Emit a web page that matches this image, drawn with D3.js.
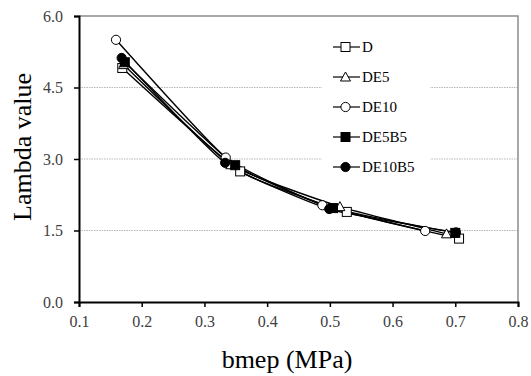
<!DOCTYPE html>
<html>
<head>
<meta charset="utf-8">
<script src="https://cdn.jsdelivr.net/npm/d3@7"></script>
<style>
  body { margin: 0; background: #fff; }
</style>
</head>
<body>
<div id="chart"></div>
<script>
var seriesNames = ['D', 'DE5', 'DE10', 'DE5B5', 'DE10B5'];
var markers = ['square', 'triangle', 'circle', 'squareFilled', 'circleFilled'];

var bmepD = [0.169, 0.357, 0.527, 0.706];
var lambdaD = [4.91, 2.74, 1.89, 1.33];
var bmepDE5 = [0.171, 0.342, 0.516, 0.686];
var lambdaDE5 = [4.98, 2.88, 2.00, 1.43];
var bmepDE10 = [0.159, 0.334, 0.488, 0.652];
var lambdaDE10 = [5.50, 3.03, 2.03, 1.49];
var bmepDE5B5 = [0.173, 0.349, 0.505, 0.700];
var lambdaDE5B5 = [5.03, 2.87, 1.97, 1.45];
var bmepDE10B5 = [0.168, 0.333, 0.499, 0.701];
var lambdaDE10B5 = [5.12, 2.92, 1.95, 1.46];

var xTicks = [0.1, 0.2, 0.3, 0.4, 0.5, 0.6, 0.7, 0.8];
var yTicks = [0, 1.5, 3.0, 4.5, 6.0];

var serif = 'Liberation Serif';

var width = 531, height = 376;
var margin = { top: 16, left: 79, right: 13, bottom: 74 };

var svg = d3.select('#chart')
  .append('svg')
  .attr('width', width)
  .attr('height', height);

var x = d3.scaleLinear().domain([0.1, 0.8]).range([margin.left, width - margin.right]);
var y = d3.scaleLinear().domain([0, 6]).range([height - margin.bottom, margin.top]);

var data = [
  { name: seriesNames[0], marker: markers[0], xs: bmepD, ys: lambdaD },
  { name: seriesNames[1], marker: markers[1], xs: bmepDE5, ys: lambdaDE5 },
  { name: seriesNames[2], marker: markers[2], xs: bmepDE10, ys: lambdaDE10 },
  { name: seriesNames[3], marker: markers[3], xs: bmepDE5B5, ys: lambdaDE5B5 },
  { name: seriesNames[4], marker: markers[4], xs: bmepDE10B5, ys: lambdaDE10B5 }
].map(function(s) {
  s.points = s.xs.map(function(v, i) { return [v, s.ys[i]]; });
  return s;
});

// gridlines
svg.append('g')
  .selectAll('line')
  .data(yTicks.slice(1, 4))
  .enter().append('line')
  .attr('x1', x(0.1)).attr('x2', x(0.8))
  .attr('y1', function(d) { return y(d); })
  .attr('y2', function(d) { return y(d); })
  .attr('stroke', '#a6a6a6')
  .attr('stroke-width', 0.8)
  .attr('stroke-dasharray', '1.5,1');

// top and right border
svg.append('path')
  .attr('d', 'M' + x(0.1) + ',' + y(6) + 'H' + x(0.8) + 'V' + y(0))
  .attr('fill', 'none')
  .attr('stroke', '#8c8c8c')
  .attr('stroke-width', 1.5);

// legend background
var legX = 333, legY = 47, legStep = 30;
svg.append('rect')
  .attr('x', 322).attr('y', 30)
  .attr('width', 108).attr('height', 152)
  .attr('fill', '#fff');

var line = d3.line()
  .curve(d3.curveCardinal.tension(0.55))
  .x(function(d) { return x(d[0]); })
  .y(function(d) { return y(d[1]); });

function drawMarker(g, type) {
  var filled = type.indexOf('Filled') >= 0;
  var fill = filled ? '#000' : '#fff';
  if (type.indexOf('square') === 0) {
    g.append('rect').attr('x', -4.5).attr('y', -4.5).attr('width', 9).attr('height', 9)
      .attr('fill', fill).attr('stroke', '#000').attr('stroke-width', 1);
  } else if (type.indexOf('circle') === 0) {
    g.append('circle').attr('r', 4.6)
      .attr('fill', fill).attr('stroke', '#000').attr('stroke-width', 1);
  } else {
    g.append('path').attr('d', 'M0,-5L5,4L-5,4Z')
      .attr('fill', '#fff').attr('stroke', '#000').attr('stroke-width', 1);
  }
}

// series lines
svg.append('g')
  .selectAll('path')
  .data(data)
  .enter().append('path')
  .attr('fill', 'none')
  .attr('stroke', '#000')
  .attr('stroke-width', 1.4)
  .attr('d', function(d) { return line(d.points); });

// markers
data.forEach(function(s) {
  s.points.forEach(function(p) {
    var g = svg.append('g').attr('transform', 'translate(' + x(p[0]) + ',' + y(p[1]) + ')');
    drawMarker(g, s.marker);
  });
});

// axes
var xAxis = d3.axisBottom(x).tickValues(xTicks).tickSize(5).tickFormat(d3.format('.1f'));
var yAxis = d3.axisLeft(y).tickValues(yTicks).tickSize(5).tickFormat(d3.format('.1f'));

var gx = svg.append('g')
  .attr('transform', 'translate(0,' + y(0) + ')')
  .call(xAxis);
var gy = svg.append('g')
  .attr('transform', 'translate(' + x(0.1) + ',0)')
  .call(yAxis);

[gx, gy].forEach(function(g) {
  g.select('.domain').attr('stroke', '#000').attr('stroke-width', 2);
  g.selectAll('.tick line').attr('stroke', '#000').attr('stroke-width', 1.5);
  g.selectAll('.tick text')
    .style('font-family', serif)
    .style('font-size', '16px')
    .attr('fill', '#404040');
});
gx.selectAll('.tick text').attr('dy', '0').attr('y', 25);
gy.selectAll('.tick text').attr('x', -16).attr('dy', '0.33em');

// legend
data.forEach(function(s, i) {
  var cy = legY + i * legStep;
  svg.append('line')
    .attr('x1', legX).attr('x2', legX + 27)
    .attr('y1', cy).attr('y2', cy)
    .attr('stroke', '#000').attr('stroke-width', 1.2);
  var g = svg.append('g').attr('transform', 'translate(' + (legX + 12.5) + ',' + cy + ')');
  drawMarker(g, s.marker);
  svg.append('text')
    .attr('x', legX + 29)
    .attr('y', cy + 5)
    .style('font-family', serif)
    .style('font-size', '15px')
    .attr('fill', '#000')
    .text(s.name);
});

// axis titles
svg.append('text')
  .attr('transform', 'translate(' + 31 + ',' + 147 + ') rotate(-90)')
  .attr('text-anchor', 'middle')
  .style('font-family', serif)
  .style('font-size', '26px')
  .text('Lambda value');

svg.append('text')
  .attr('x', 287)
  .attr('y', 368)
  .attr('text-anchor', 'middle')
  .style('font-family', serif)
  .style('font-size', '26px')
  .text('bmep (MPa)');
</script>
</body>
</html>
